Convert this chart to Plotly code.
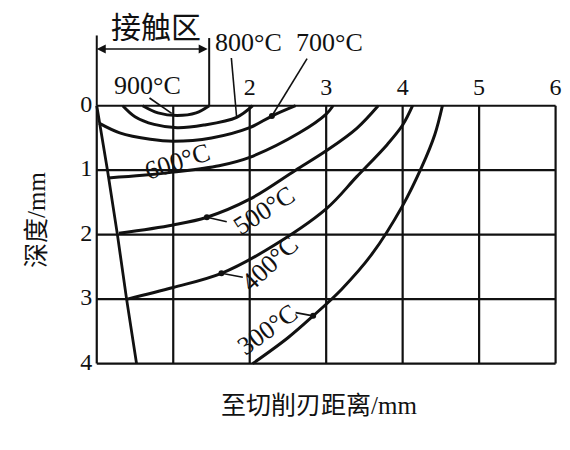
import plotly.graph_objects as go

# ---------------- data ----------------
grid_x = [0, 1, 2, 3, 4, 5, 6]          # distance from cutting edge, mm
grid_y = [0, 1, 2, 3, 4]                # depth, mm
x_tick_vals = [2, 3, 4, 5, 6]
x_tick_text = ["2", "3", "4", "5", "6"]
y_tick_vals = [0, 1, 2, 3, 4]
y_tick_text = ["0", "1", "2", "3", "4"]

tool_x = [0.0, 0.14, 0.27, 0.39, 0.52]
tool_y = [0.0, 1.0, 2.0, 3.0, 4.0]

t900_x = [0.60, 0.80, 1.05, 1.30, 1.47]
t900_y = [0.00, 0.11, 0.15, 0.11, 0.00]

t800_x = [0.34, 0.50, 0.75, 1.05, 1.40, 1.83, 2.04]
t800_y = [0.00, 0.17, 0.29, 0.34, 0.30, 0.18, 0.00]

t700_x = [0.03, 0.30, 0.70, 1.00, 1.50, 2.00, 2.29, 2.60]
t700_y = [0.27, 0.42, 0.52, 0.55, 0.50, 0.34, 0.16, 0.00]

t600_x = [0.15, 0.60, 1.00, 1.60, 2.00, 2.65, 3.00, 3.09]
t600_y = [1.12, 1.08, 1.03, 0.93, 0.80, 0.42, 0.13, 0.00]

t500_x = [0.29, 1.00, 1.44, 2.00, 2.60, 3.00, 3.40, 3.68]
t500_y = [1.98, 1.85, 1.73, 1.45, 1.00, 0.70, 0.35, 0.00]

t400_x = [0.40, 1.00, 1.63, 2.20, 3.00, 3.40, 3.80, 4.00, 4.13]
t400_y = [3.00, 2.82, 2.60, 2.25, 1.60, 1.10, 0.60, 0.30, 0.00]

t300_x = [2.04, 2.50, 2.83, 3.20, 3.60, 4.00, 4.25, 4.42, 4.52]
t300_y = [4.00, 3.60, 3.26, 2.85, 2.30, 1.55, 0.95, 0.45, 0.00]

# label dots on the isotherms
dot_x = [2.29, 1.44, 1.63, 2.83]
dot_y = [0.16, 1.73, 2.60, 3.26]

# contact zone bracket
contact_x = [0.0, 1.47]
contact_top = [-1.09, -1.05]
contact_arrow_y = -0.88

BLACK = "#111111"
SERIF = "Liberation Serif"
CJK = "Liberation Serif, Noto Sans CJK SC"

fig = go.Figure()

# grid
gx, gy = [], []
for v in grid_x:
    gx += [v, v, None]
    gy += [grid_y[0], grid_y[-1], None]
for h in grid_y:
    gx += [grid_x[0], grid_x[-1], None]
    gy += [h, h, None]
fig.add_trace(go.Scatter(x=gx, y=gy, mode="lines",
                         line=dict(color=BLACK, width=2.2), hoverinfo="skip"))

# contact-zone bracket verticals
bx, by = [], []
for xv, yt in zip(contact_x, contact_top):
    bx += [xv, xv, None]
    by += [yt, 0, None]
fig.add_trace(go.Scatter(x=bx, y=by, mode="lines",
                         line=dict(color=BLACK, width=2), hoverinfo="skip"))

# tool face
fig.add_trace(go.Scatter(x=tool_x, y=tool_y, mode="lines",
                         line=dict(color=BLACK, width=2.8), hoverinfo="skip"))

# isotherms
for xs, ys in [(t900_x, t900_y), (t800_x, t800_y), (t700_x, t700_y),
               (t600_x, t600_y), (t500_x, t500_y), (t400_x, t400_y),
               (t300_x, t300_y)]:
    fig.add_trace(go.Scatter(x=xs, y=ys, mode="lines",
                             line=dict(color=BLACK, width=3, shape="spline",
                                       smoothing=1.0),
                             hoverinfo="skip"))

# pointer lines for labels
px_ = [0.69, 0.98, None, 1.76, 1.83, None, 2.75, 2.29, None,
       1.44, 1.70, None, 1.63, 1.91, None, 2.83, 2.60]
py_ = [-0.12, 0.12, None, -0.74, 0.19, None, -0.73, 0.16, None,
       1.73, 1.80, None, 2.60, 2.66, None, 3.26, 3.21]
fig.add_trace(go.Scatter(x=px_, y=py_, mode="lines",
                         line=dict(color=BLACK, width=1.6), hoverinfo="skip"))

fig.add_trace(go.Scatter(x=dot_x, y=dot_y, mode="markers",
                         marker=dict(color=BLACK, size=6), hoverinfo="skip"))

# tick labels
fig.add_trace(go.Scatter(x=x_tick_vals, y=[-0.26] * len(x_tick_vals),
                         mode="text", text=x_tick_text, textposition="middle center",
                         textfont=dict(family=SERIF, size=24, color=BLACK),
                         cliponaxis=False, hoverinfo="skip"))
fig.add_trace(go.Scatter(x=[-0.06] * len(y_tick_vals), y=y_tick_vals,
                         mode="text", text=y_tick_text, textposition="middle left",
                         textfont=dict(family=SERIF, size=24, color=BLACK),
                         cliponaxis=False, hoverinfo="skip"))

ann = []
# double-headed arrow of contact zone
ann.append(dict(x=contact_x[0], y=contact_arrow_y, ax=contact_x[1], ay=contact_arrow_y,
                xref="x", yref="y", axref="x", ayref="y", text="",
                showarrow=True, arrowhead=2, arrowside="end+start",
                arrowsize=1.2, arrowwidth=1.5, arrowcolor=BLACK))
ann.append(dict(x=0.78, y=-1.22, xref="x", yref="y", text="接触区", showarrow=False,
                font=dict(family=CJK, size=30, color=BLACK)))

labels = [
    ("900°C", 0.66, -0.31, 0),
    ("800°C", 1.99, -0.98, 0),
    ("700°C", 3.04, -0.98, 0),
    ("600°C", 1.06, 0.87, -18),
    ("500°C", 2.19, 1.63, -33),
    ("400°C", 2.26, 2.44, -43),
    ("300°C", 2.23, 3.47, -36),
]
for t, xv, yv, ang in labels:
    ann.append(dict(x=xv, y=yv, xref="x", yref="y", text=t, showarrow=False,
                    textangle=ang,
                    font=dict(family=SERIF, size=26, color=BLACK)))

ann.append(dict(x=0.505, y=-0.10, xref="paper", yref="paper",
                text="至切削刃距离/mm", showarrow=False,
                xanchor="center", yanchor="middle",
                font=dict(family=CJK, size=25, color=BLACK)))
ann.append(dict(x=-0.068, y=0.43, xref="paper", yref="paper",
                text="深度/mm", showarrow=False, textangle=-90,
                xanchor="center", yanchor="middle",
                font=dict(family=CJK, size=25, color=BLACK)))

fig.update_layout(
    width=570, height=450,
    margin=dict(l=62, r=14, t=12, b=88),
    paper_bgcolor="white", plot_bgcolor="white",
    showlegend=False,
    annotations=ann,
    xaxis=dict(range=[-0.35, 6.11], showgrid=False, zeroline=False,
               showticklabels=False, showline=False, ticks=""),
    yaxis=dict(range=[4.1, -1.33], showgrid=False, zeroline=False,
               showticklabels=False, showline=False, ticks=""),
)

fig.write_html("out.html")
